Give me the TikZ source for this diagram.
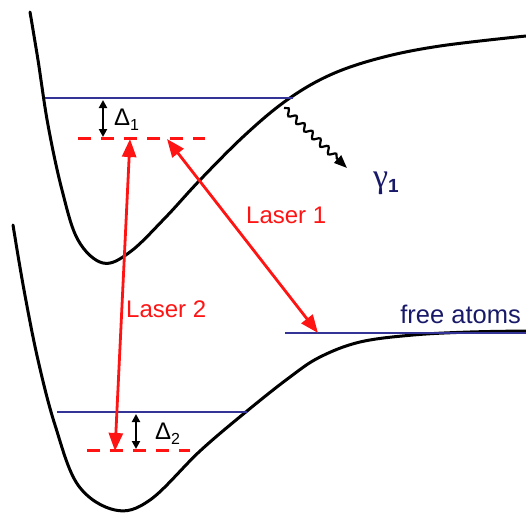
\documentclass[tikz,border=0pt]{standalone}
\usepackage{fontspec}
\setmainfont{Liberation Sans}
\newfontfamily\gamfont{Liberation Serif}
\usetikzlibrary{arrows.meta,decorations.pathmorphing}
\definecolor{lvl}{RGB}{52,52,150}
\definecolor{navy}{RGB}{25,25,105}
\definecolor{lred}{RGB}{255,20,20}
\tikzset{
  curve/.style={line width=3pt, black, line cap=round},
  level/.style={line width=2.8pt, lvl},
  virt/.style={line width=3pt, lred, dash pattern=on 13pt off 10pt},
  laser/.style={line width=2.8pt, lred, {Triangle[length=18pt,width=14pt]}-{Triangle[length=18pt,width=14pt]}},
  detune/.style={line width=2.4pt, black, {Triangle[length=8pt,width=8pt]}-{Triangle[length=8pt,width=8pt]}},
  lbl/.style={font=\fontsize{24}{26}\selectfont, inner sep=0pt},
}
\begin{document}
\begin{tikzpicture}[x=1pt,y=-1pt]
\useasboundingbox (0,0) rectangle (526,514);
% potential curves
\draw[curve] plot[smooth, tension=0.6] coordinates {(30,12) (38,60) (48,125) (62,190) (78,240) (103,263) (130,252) (165,218) (200,180) (245,135) (287,100) (330,75) (380,58) (440,46) (526,36)};
\draw[curve] plot[smooth, tension=0.6] coordinates {(13,225) (24,290) (38,360) (55,425) (78,485) (115,510) (150,500) (200,451) (247,411) (290,377) (320,357) (360,342) (413,335) (470,332) (526,331)};
% levels
\coordinate (u1) at (45,98); \coordinate (u2) at (293,98);
\coordinate (l1) at (57,412); \coordinate (l2) at (247,412);
\coordinate (f1) at (285,333); \coordinate (f2) at (526,333);
\draw[level] (u1) -- (u2);
\draw[level] (l1) -- (l2);
\draw[level] (f1) -- (f2);
% virtual levels
\coordinate (v1a) at (78,138); \coordinate (v1b) at (205,138);
\coordinate (v2a) at (87,450); \coordinate (v2b) at (190,450);
\draw[virt] (v1a) -- (v1b);
\draw[virt] (v2a) -- (v2b);
% detunings
\coordinate (d1t) at (103,100); \coordinate (d1b) at (103,137);
\coordinate (d2t) at (136,414); \coordinate (d2b) at (136,449);
\draw[detune] (d1t) -- (d1b);
\draw[detune] (d2t) -- (d2b);
\node[lbl, anchor=west] (D1) at (114,120) {Δ\raisebox{-5pt}{\fontsize{16}{17}\selectfont 1}};
\node[lbl, anchor=west] (D2) at (155,434) {Δ\raisebox{-5pt}{\fontsize{16}{17}\selectfont 2}};
% lasers
\coordinate (L2t) at (130,139); \coordinate (L2b) at (115,451);
\coordinate (L1t) at (167,139); \coordinate (L1b) at (318,333);
\draw[laser] (L2t) -- (L2b);
\draw[laser] (L1t) -- (L1b);
\node[lbl, text=lred, anchor=west] (T1) at (246,215) {Laser 1};
\node[lbl, text=lred, anchor=west] (T2) at (126,309) {Laser 2};
% free atoms
\node[lbl, font=\fontsize{25.5}{27}\selectfont, text=navy, anchor=base east] (FA) at (521,323) {free atoms};
% photon
\coordinate (p1) at (284,108); \coordinate (p2) at (347,168);
\draw[line width=2.2pt, black, decorate, decoration={snake, amplitude=3pt, segment length=11pt, post length=13pt}, -{Triangle[length=13pt,width=10pt]}] (p1) -- (p2);
\node[inner sep=0pt, text=navy, anchor=base west] (G) at (373,187) {{\gamfont\fontsize{34}{34}\selectfont γ}\raisebox{-5pt}{\fontsize{19}{20}\selectfont\bfseries 1}};
\end{tikzpicture}
\end{document}
